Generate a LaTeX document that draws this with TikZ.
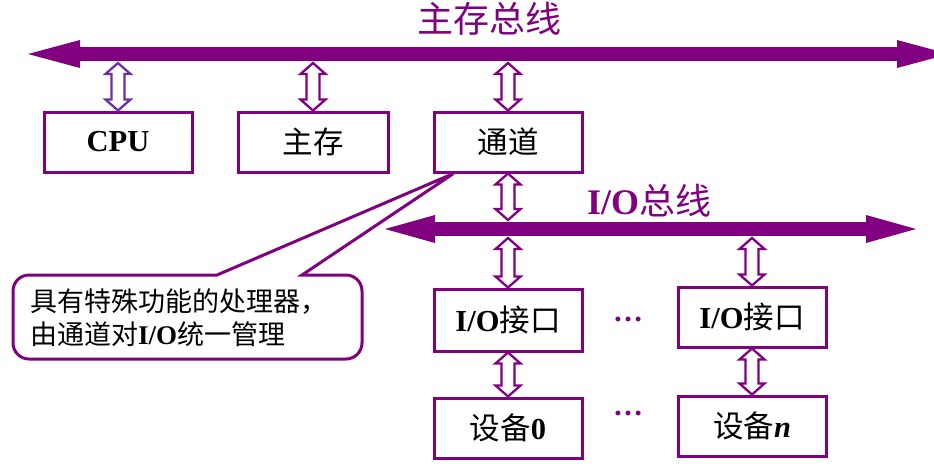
\documentclass[tikz,border=0pt]{standalone}
\usepackage{fontspec}
\setmainfont{Liberation Serif}
\newfontfamily\cjk{Noto Sans CJK SC}
\usetikzlibrary{calc,arrows.meta}
\definecolor{pur}{HTML}{800080}
\definecolor{lpur}{HTML}{7030A0}
\begin{document}
\begin{tikzpicture}[x=1pt,y=-1pt,
  box/.style={draw=pur, line width=3pt, minimum width=148pt, minimum height=60pt, inner sep=0pt, font=\fontsize{30.5}{34}\selectfont},
  bus/.style={draw=pur, line width=14pt, {Triangle[length=52pt,width=28pt,line width=0pt]}-{Triangle[length=52pt,width=28pt,line width=0pt]}},
  iobus/.style={draw=pur, line width=14pt, {Triangle[length=50pt,width=28pt,line width=0pt]}-{Triangle[length=50pt,width=28pt,line width=0pt]}},
  dbl/.style={draw=pur, line width=2.3pt, line join=miter, to path={let \p1=(\tikztostart), \p2=(\tikztotarget) in
     (\x1,\y1) -- ({\x1-12.5pt},{\y1+11pt}) -- ({\x1-6.5pt},{\y1+11pt}) -- ({\x1-6.5pt},{\y2-11pt}) -- ({\x1-12.5pt},{\y2-11pt}) -- (\x1,\y2) -- ({\x1+12.5pt},{\y2-11pt}) -- ({\x1+6.5pt},{\y2-11pt}) -- ({\x1+6.5pt},{\y1+11pt}) -- ({\x1+12.5pt},{\y1+11pt}) -- cycle}},
  title/.style={text=pur, inner sep=0pt, font=\fontsize{36}{40}\selectfont},
  dots/.style={text=pur, inner sep=0pt, font=\fontsize{30}{34}\selectfont\bfseries},
  calloutline/.style={draw=pur, line width=3pt, line join=miter},
  notetext/.style={align=left, inner sep=0pt, font=\fontsize{27}{33}\selectfont}
]
\useasboundingbox (0,0) rectangle (934,475);

% buses
\coordinate (mbL) at (28,54);
\coordinate (mbR) at (949,54);
\coordinate (iobL) at (385,229);
\coordinate (iobR) at (916,229);
\coordinate (mbB) at (0,63);
\coordinate (iobT) at (0,220);
\coordinate (iobB) at (0,238);
\draw[bus] (mbL) -- (mbR);
\draw[iobus] (iobL) -- (iobR);

\node[title] (mbt) at (489,19) {\cjk 主存总线};
\node[title] (iobt) at (649,201) {\textbf{I/O}\cjk 总线};

% boxes
\node[box] (cpu) at (118,142) {\textbf{CPU}};
\node[box, minimum width=150pt] (mem) at (313,142) {\cjk 主存};
\node[box] (ch) at (508,142) {\cjk 通道};
\node[box, minimum height=62pt] (io1) at (508,320) {\textbf{I/O}\cjk 接口};
\node[box] (io2) at (752,317) {\textbf{I/O}\cjk 接口};
\node[box] (dev0) at (508,428) {{\cjk 设备}\textbf{0}};
\node[box] (devn) at (752,426) {{\cjk 设备}\textbf{\itshape n}};

\node[dots] (d1) at (628,319) {…};
\node[dots] (d2) at (628,413) {…};

% hollow double arrows
\draw[dbl, draw=lpur] (cpu.north) to (cpu.north |- mbB);
\draw[dbl] (mem.north) to (mem.north |- mbB);
\draw[dbl] (ch.north) to (ch.north |- mbB);
\draw[dbl] (ch.south |- iobT) to (ch.south);
\draw[dbl] (io1.north) to (io1.north |- iobB);
\draw[dbl] (io2.north) to (io2.north |- iobB);
\draw[dbl] (dev0.north) to (io1.south);
\draw[dbl] (devn.north) to (io2.south);

% callout
\coordinate (tip) at ([xshift=21pt]ch.south west);
\draw[calloutline] (100,275) -- (217,275) -- (tip) -- (302,275) -- (320,275) [rounded corners=16pt] -- (362,275) -- (362,359) -- (13,359) -- (13,275) -- cycle;
\node[notetext, anchor=west] (note) at (30,318) {{\cjk 具有特殊功能的处理器，}\\{\cjk 由通道对}\textbf{I/O}{\cjk 统一管理}};
\end{tikzpicture}
\end{document}
